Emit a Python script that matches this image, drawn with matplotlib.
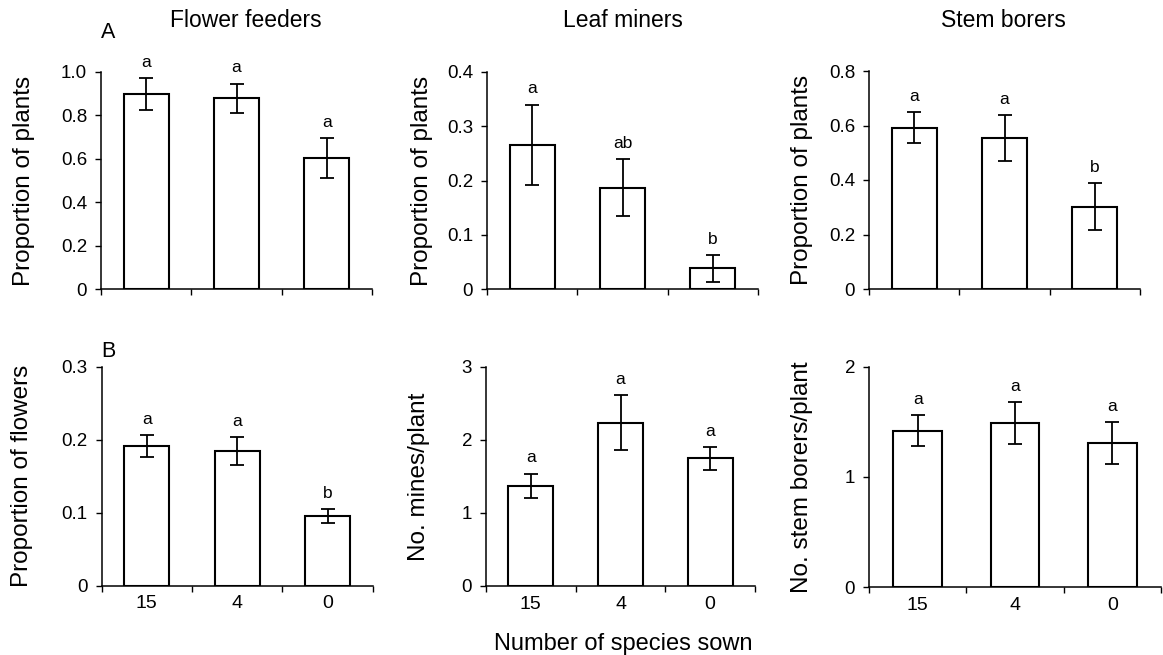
import matplotlib
matplotlib.use("Agg")
import matplotlib.pyplot as plt

plt.rcParams['font.family'] = ['Liberation Sans', 'DejaVu Sans']

# ---------------- data ----------------
groups = ['15', '4', '0']

ff_plants = [0.898, 0.880, 0.603]
ff_plants_se = [0.073, 0.067, 0.092]
ff_plants_letters = ['a', 'a', 'a']

lm_plants = [0.266, 0.187, 0.038]
lm_plants_se = [0.074, 0.052, 0.025]
lm_plants_letters = ['a', 'ab', 'b']

sb_plants = [0.592, 0.553, 0.302]
sb_plants_se = [0.058, 0.084, 0.087]
sb_plants_letters = ['a', 'a', 'b']

ff_flowers = [0.1915, 0.1846, 0.0953]
ff_flowers_se = [0.015, 0.019, 0.0095]
ff_flowers_letters = ['a', 'a', 'b']

lm_mines = [1.368, 2.234, 1.746]
lm_mines_se = [0.17, 0.38, 0.16]
lm_mines_letters = ['a', 'a', 'a']

sb_borers = [1.420, 1.486, 1.311]
sb_borers_se = [0.14, 0.19, 0.19]
sb_borers_letters = ['a', 'a', 'a']

col_titles = ['Flower feeders', 'Leaf miners', 'Stem borers']
row_labels = ['A', 'B']
xlabel = 'Number of species sown'

ylabels = ['Proportion of plants', 'Proportion of plants', 'Proportion of plants',
           'Proportion of flowers', 'No. mines/plant', 'No. stem borers/plant']

yticks_ff_plants = [0, 0.2, 0.4, 0.6, 0.8, 1.0]
yticklabels_ff_plants = ['0', '0.2', '0.4', '0.6', '0.8', '1.0']
yticks_lm_plants = [0, 0.1, 0.2, 0.3, 0.4]
yticklabels_lm_plants = ['0', '0.1', '0.2', '0.3', '0.4']
yticks_sb_plants = [0, 0.2, 0.4, 0.6, 0.8]
yticklabels_sb_plants = ['0', '0.2', '0.4', '0.6', '0.8']
yticks_ff_flowers = [0, 0.1, 0.2, 0.3]
yticklabels_ff_flowers = ['0', '0.1', '0.2', '0.3']
yticks_lm_mines = [0, 1, 2, 3]
yticklabels_lm_mines = ['0', '1', '2', '3']
yticks_sb_borers = [0, 1, 2]
yticklabels_sb_borers = ['0', '1', '2']

# ---------------- layout (pixels) ----------------
W, H = 1163, 655
fig = plt.figure(figsize=(W / 100, H / 100), dpi=100)

# left, right, top (y of max tick), bottom (y of zero), ylabel right edge x
boxes = [
    (101, 372, 72, 289, 35),
    (487, 758, 72, 289, 433),
    (869, 1140, 71, 289, 813),
    (101.5, 373, 366.7, 585.5, 33),
    (486, 755, 366.7, 586, 430),
    (869, 1161, 366.7, 587, 813),
]

panels = [
    (ff_plants, ff_plants_se, ff_plants_letters, yticks_ff_plants, yticklabels_ff_plants),
    (lm_plants, lm_plants_se, lm_plants_letters, yticks_lm_plants, yticklabels_lm_plants),
    (sb_plants, sb_plants_se, sb_plants_letters, yticks_sb_plants, yticklabels_sb_plants),
    (ff_flowers, ff_flowers_se, ff_flowers_letters, yticks_ff_flowers, yticklabels_ff_flowers),
    (lm_mines, lm_mines_se, lm_mines_letters, yticks_lm_mines, yticklabels_lm_mines),
    (sb_borers, sb_borers_se, sb_borers_letters, yticks_sb_borers, yticklabels_sb_borers),
]

xpos = [1, 2, 3]
for i, ((l, r, t, b, ylx), (vals, se, letters, yt, ytl)) in enumerate(zip(boxes, panels)):
    ax = fig.add_axes([l / W, 1 - b / H, (r - l) / W, (b - t) / H])
    ax.bar(xpos, vals, width=0.5, color='white', edgecolor='black', linewidth=1.5, zorder=2)
    ax.errorbar(xpos, vals, yerr=se, fmt='none', ecolor='black', elinewidth=1.3,
                capsize=4.7, capthick=1.3, zorder=3)
    for x, v, s, lt in zip(xpos, vals, se, letters):
        ax.annotate(lt, (x, v + s), xytext=(0, 8), textcoords='offset points',
                    ha='center', va='baseline', fontsize=12.5)
    ax.set_xlim(0.5, 3.5)
    ax.set_ylim(0, yt[-1])
    ax.set_yticks(yt)
    ax.set_yticklabels(ytl, fontsize=13.5)
    ax.set_xticks([0.5, 1.5, 2.5, 3.5])
    ax.set_xticklabels([''] * 4)
    ax.set_xticks(xpos, minor=True)
    if i >= 3:
        ax.set_xticklabels(groups, minor=True, fontsize=14)
    ax.tick_params(axis='x', which='minor', length=0, pad=7)
    ax.tick_params(axis='x', which='major', direction='out', length=4.5, width=1.0)
    ax.tick_params(axis='y', direction='out', length=4, width=1.0, pad=6)
    for s in ['top', 'right']:
        ax.spines[s].set_visible(False)
    for s in ['left', 'bottom']:
        ax.spines[s].set_linewidth(1.1)
    ax.set_ylabel(ylabels[i], fontsize=17.5)
    ax.yaxis.set_label_coords(ylx / W, 1 - ((t + b) / 2) / H, transform=fig.transFigure)

# column titles
title_x = [246, 623, 1003]
for tx, tt in zip(title_x, col_titles):
    fig.text(tx / W, 1 - 27 / H, tt, ha='center', va='baseline', fontsize=16.5)

fig.text(108 / W, 1 - 38 / H, row_labels[0], ha='center', va='baseline', fontsize=15.5)
fig.text(108 / W, 1 - 357 / H, row_labels[1], ha='center', va='baseline', fontsize=15.5)

fig.text(623 / W, 1 - 650 / H, xlabel, ha='center', va='baseline', fontsize=17)

fig.savefig('out.png', dpi=100, facecolor='white')
